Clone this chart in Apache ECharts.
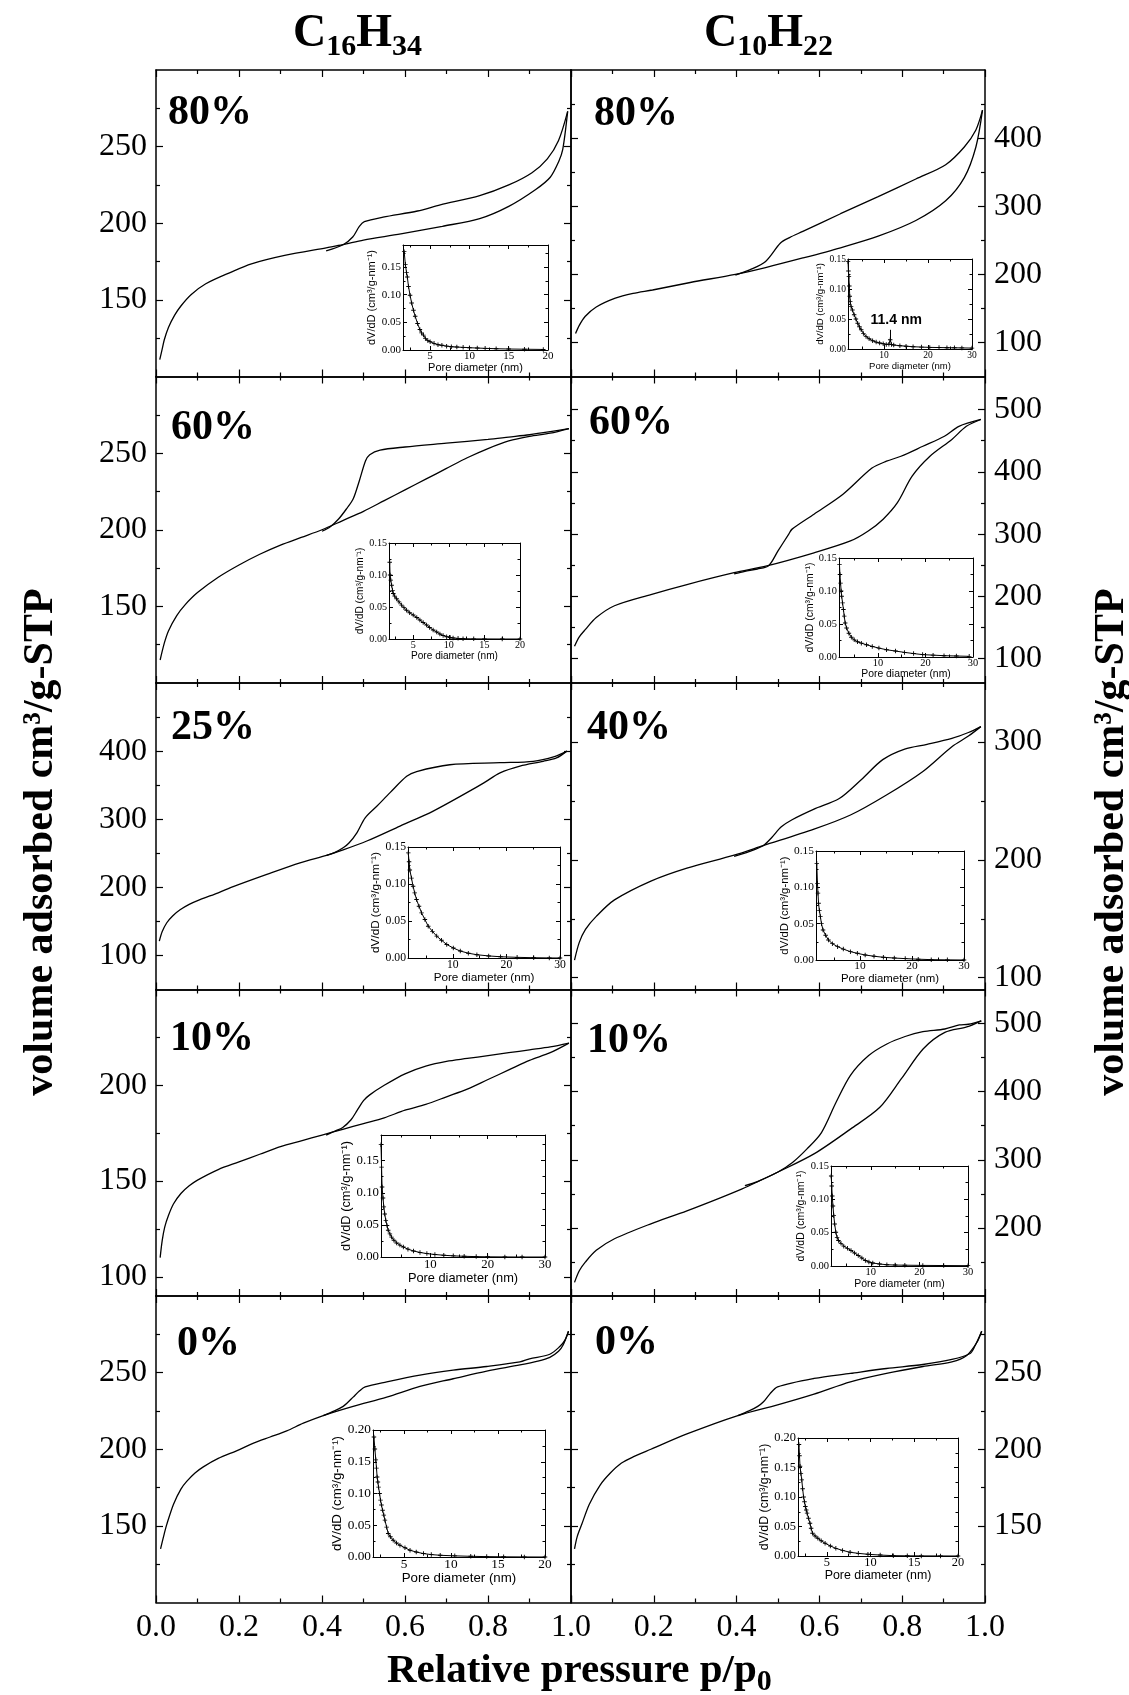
<!DOCTYPE html>
<html>
<head>
<meta charset="utf-8">
<script src="https://cdn.jsdelivr.net/npm/echarts@6.0.0/dist/echarts.min.js"></script>
<style>
html,body{margin:0;padding:0;background:#fff;}
#chart{width:1129px;height:1695px;}
</style>
</head>
<body>
<div id="chart"></div>
<script>
// ================= DATA =================
const relPressureTicks = [0, 0.2, 0.4, 0.6, 0.8, 1.0];
const relPressureMinor = [0.1, 0.3, 0.5, 0.7, 0.9];
const loadingC16 = ['80%', '60%', '25%', '10%', '0%'];
const loadingC10 = ['80%', '60%', '40%', '10%', '0%'];

// Isotherms: [p/p0, volume adsorbed cm3/g-STP]
const ads_C16_80 = [[0.009,111],[0.015,118],[0.02,124],[0.03,132],[0.045,140],[0.06,146],[0.085,153.5],[0.12,160.5],[0.18,168],[0.23,173.5],[0.31,179],[0.41,184],[0.45,186],[0.5,189],[0.59,193],[0.69,198],[0.78,203],[0.85,211],[0.915,222],[0.95,230],[0.97,240],[0.98,248],[0.992,273]];
const des_C16_80 = [[0.992,273],[0.97,254],[0.943,242],[0.906,233],[0.85,225],[0.78,218],[0.685,212],[0.63,208],[0.547,204],[0.502,201],[0.49,198],[0.474,191],[0.451,186],[0.41,182]];
const ads_C10_80 = [[0.011,113],[0.02,125],[0.034,138],[0.061,152],[0.107,165],[0.15,172],[0.197,177],[0.288,188],[0.397,200],[0.47,210],[0.56,224],[0.651,239],[0.742,256],[0.833,279],[0.905,308],[0.95,342],[0.978,387],[0.994,441]];
const des_C10_80 = [[0.994,441],[0.978,412],[0.95,387],[0.905,361],[0.833,340],[0.742,314],[0.651,289],[0.56,263],[0.528,254],[0.506,246],[0.47,219],[0.433,207],[0.397,199]];

const ads_C16_60 = [[0.01,115],[0.02,126],[0.03,134],[0.05,144],[0.07,151],[0.1,159],[0.15,169],[0.2,177],[0.25,184],[0.3,190],[0.35,195],[0.4,200],[0.45,206],[0.5,212],[0.55,219],[0.6,226],[0.65,233],[0.7,240],[0.75,247],[0.8,253],[0.85,258],[0.9,261],[0.95,263],[0.995,266]];
const des_C16_60 = [[0.995,266],[0.95,264],[0.9,262],[0.85,260.5],[0.8,259],[0.7,256.5],[0.6,254],[0.54,252],[0.515,249],[0.505,245],[0.49,232],[0.475,220],[0.46,214],[0.44,207],[0.42,202],[0.4,199]];
const ads_C10_60 = [[0.0085,120],[0.02,135],[0.035,147],[0.061,166],[0.105,185],[0.193,203],[0.28,219],[0.394,238],[0.473,249],[0.587,270],[0.675,289],[0.718,305],[0.754,324],[0.788,350],[0.824,393],[0.867,425],[0.92,452],[0.955,473],[0.99,484]];
const des_C10_60 = [[0.99,484],[0.937,473],[0.902,457],[0.85,441],[0.797,425],[0.762,417],[0.727,406],[0.657,364],[0.587,332],[0.534,308],[0.526,300],[0.5,273],[0.477,249],[0.45,244],[0.42,240],[0.394,236]];

const ads_C16_25 = [[0.008,121],[0.015,135],[0.026,148],[0.04,158],[0.058,167],[0.08,175],[0.106,182],[0.15,192],[0.186,201],[0.267,219],[0.347,236],[0.411,247],[0.451,255],[0.508,268],[0.588,290],[0.668,312],[0.749,339],[0.789,353],[0.829,368],[0.877,378],[0.933,385],[0.965,390],[0.99,400]];
const des_C16_25 = [[0.99,400],[0.96,392],[0.909,385],[0.829,383],[0.708,380],[0.628,370],[0.604,363],[0.564,339],[0.532,319],[0.504,302],[0.484,280],[0.465,265],[0.451,258],[0.43,251],[0.411,247]];
const ads_C10_40 = [[0.0085,115],[0.02,130],[0.035,141],[0.061,152],[0.105,166],[0.193,182],[0.28,193],[0.394,204],[0.464,212],[0.587,226],[0.675,238],[0.762,255],[0.85,275],[0.92,296],[0.96,305],[0.99,313]];
const des_C10_40 = [[0.99,313],[0.96,308],[0.92,303],[0.86,298],[0.806,294],[0.753,285],[0.701,268],[0.648,252],[0.587,243],[0.534,234],[0.508,228],[0.485,219],[0.464,212],[0.43,207],[0.394,203]];

const ads_C16_10 = [[0.01,110],[0.015,119],[0.021,126],[0.03,132],[0.042,138],[0.06,143.5],[0.08,147.5],[0.1,150.5],[0.15,156],[0.2,160],[0.25,164],[0.3,168],[0.35,171],[0.4,174],[0.45,177],[0.5,180],[0.55,183],[0.6,187],[0.65,190],[0.7,194],[0.75,198],[0.8,203],[0.85,208],[0.9,213],[0.95,217],[0.995,222]];
const des_C16_10 = [[0.995,222],[0.95,220],[0.9,218.5],[0.85,217],[0.8,215.5],[0.75,214],[0.7,212.5],[0.65,210],[0.6,206],[0.55,200],[0.515,195],[0.5,192],[0.485,187],[0.47,182],[0.45,178],[0.43,176],[0.41,174]];
const ads_C10_10 = [[0.0085,120],[0.02,137],[0.035,150],[0.061,167],[0.105,184],[0.193,206],[0.28,225],[0.412,257],[0.5,282],[0.588,309],[0.675,345],[0.746,377],[0.798,419],[0.851,463],[0.903,487],[0.956,495],[0.991,504]];
const des_C10_10 = [[0.991,504],[0.96,499],[0.938,498],[0.903,492],[0.85,488],[0.807,481],[0.763,470],[0.719,453],[0.675,424],[0.64,384],[0.605,340],[0.57,316],[0.535,296],[0.5,282],[0.45,268],[0.42,262]];

const ads_C16_0 = [[0.011,135],[0.02,145],[0.026,151],[0.042,164],[0.06,174],[0.074,179],[0.094,184.5],[0.114,188.5],[0.15,194],[0.194,199],[0.235,204],[0.275,208],[0.315,212],[0.355,217],[0.403,222],[0.475,228],[0.556,234],[0.636,241],[0.716,246],[0.797,251],[0.877,255],[0.92,257.5],[0.949,260],[0.97,264],[0.981,268],[0.994,277]];
const des_C16_0 = [[0.994,277],[0.985,271],[0.973,267],[0.949,262],[0.9,259],[0.877,257],[0.797,254],[0.716,251.6],[0.636,248.4],[0.556,244],[0.504,240.7],[0.49,238],[0.475,234],[0.46,230],[0.451,228],[0.43,225],[0.403,222]];
const ads_C10_0 = [[0.0085,135],[0.015,143],[0.026,151],[0.044,164],[0.07,176.5],[0.095,184.5],[0.122,191],[0.15,195],[0.193,200],[0.28,210],[0.403,222],[0.499,229],[0.587,236],[0.675,244],[0.762,249.5],[0.85,254],[0.92,257],[0.955,261],[0.981,270],[0.992,277]];
const des_C10_0 = [[0.992,277],[0.975,267],[0.964,262.5],[0.92,258.6],[0.85,255.3],[0.762,252.7],[0.675,249.5],[0.587,246.2],[0.499,240.7],[0.48,236],[0.465,231],[0.451,228],[0.43,225],[0.403,222]];

// Volume axis scales per row [min, max], labelled ticks, minor ticks
const yRangeC16 = [[100,300],[100,300],[50,500],[90,250],[100,300]];
const yLabelsC16 = [[150,200,250],[150,200,250],[100,200,300,400],[100,150,200],[150,200,250]];
const yMinorC16 = [[125,175,225,275],[125,175,225,275],[150,250,350,450],[125,175,225],[125,175,225,275]];
const yRangeC10 = [[50,500],[61,553],[90,350],[100,550],[100,300]];
const yLabelsC10 = [[100,200,300,400],[100,200,300,400,500],[100,200,300],[200,300,400,500],[150,200,250]];
const yMinorC10 = [[150,250,350,450],[150,250,350,450],[150,250],[150,250,350,450],[125,175,225,275]];

// Pore size distributions (insets): [pore diameter nm, dV/dD]
const psd_C16_80 = [[1.7,0.178],[1.85,0.155],[2.0,0.14],[2.1,0.132],[2.25,0.115],[2.45,0.099],[2.65,0.085],[2.88,0.072],[3.1,0.061],[3.4,0.048],[3.7,0.037],[3.9,0.031],[4.15,0.027],[4.4,0.021],[4.7,0.017],[5.0,0.015],[5.5,0.012],[6,0.0095],[6.5,0.0085],[7.1,0.007],[7.7,0.006],[8.4,0.0053],[9.2,0.0048],[10,0.0042],[11,0.0035],[12,0.003],[13.4,0.0023],[15,0.0018],[17,0.0014],[19.4,0.001]];
const psd_C10_80 = [[1.8,0.146],[1.9,0.13],[2.0,0.121],[2.1,0.105],[2.2,0.088],[2.3,0.079],[2.5,0.071],[2.8,0.065],[3.2,0.057],[3.6,0.05],[4.0,0.043],[4.4,0.037],[4.8,0.032],[5.3,0.026],[5.9,0.021],[6.6,0.017],[7.4,0.0138],[8.2,0.0115],[9.0,0.01],[9.8,0.0088],[10.5,0.0077],[11.1,0.008],[11.4,0.0155],[11.7,0.0075],[12.2,0.0066],[13.6,0.0055],[15,0.0047],[16.6,0.0038],[18.5,0.0032],[20.4,0.0027],[22.5,0.0024],[24.3,0.0022],[26,0.002],[27.7,0.0018],[30,0.0015]];
const psd_C16_60 = [[1.7,0.12],[1.75,0.1],[1.85,0.092],[1.97,0.084],[2.1,0.076],[2.2,0.071],[2.4,0.067],[2.67,0.063],[3.0,0.058],[3.37,0.053],[3.7,0.049],[4.07,0.045],[4.5,0.041],[5,0.0374],[5.5,0.0335],[5.94,0.0296],[6.4,0.0257],[6.88,0.0218],[7.3,0.018],[7.8,0.014],[8.3,0.011],[8.75,0.0078],[9.2,0.0055],[9.7,0.0036],[10.2,0.0024],[10.6,0.0016],[11.3,0.001],[12,0.0005],[13.5,0.0002],[15,0.0001],[17.5,0],[20,0]];
const psd_C10_60 = [[1.9,0.14],[2.0,0.125],[2.13,0.112],[2.25,0.1],[2.36,0.092],[2.55,0.082],[2.73,0.072],[2.9,0.062],[3.1,0.0515],[3.4,0.044],[3.88,0.036],[4.4,0.03],[5.0,0.026],[5.7,0.023],[6.5,0.021],[7.6,0.0185],[8.8,0.016],[10.2,0.0135],[11.8,0.011],[13.7,0.009],[15.6,0.007],[17.5,0.0052],[19.4,0.0036],[21.6,0.0028],[23.9,0.002],[26.5,0.0015],[29.2,0.001]];
const psd_C16_25 = [[1.7,0.142],[1.85,0.13],[1.99,0.119],[2.3,0.108],[2.6,0.097],[2.9,0.088],[3.24,0.079],[3.7,0.07],[4.18,0.061],[4.8,0.052],[5.42,0.043],[6.2,0.036],[7.0,0.0296],[7.9,0.024],[8.87,0.0183],[10.1,0.0135],[11.4,0.0094],[12.9,0.0065],[14.5,0.0044],[16.7,0.0028],[18.9,0.0017],[22,0.0009],[25.1,0.0004],[28,0.0001],[30,0]];
const psd_C10_40 = [[1.7,0.133],[1.83,0.1055],[1.93,0.092],[2.04,0.078],[2.2,0.068],[2.39,0.0597],[2.6,0.05],[2.9,0.0413],[3.4,0.034],[3.94,0.0275],[4.7,0.0225],[5.7,0.0184],[6.8,0.015],[8.16,0.0115],[9.5,0.0092],[11,0.0069],[12.7,0.0052],[14.5,0.0037],[16.6,0.0027],[18.7,0.0019],[21.2,0.0011],[23.7,0.0005],[26.8,0.0002],[30,0]];
const psd_C16_10 = [[1.4,0.175],[1.5,0.14],[1.59,0.109],[1.75,0.092],[1.89,0.078],[2.05,0.067],[2.24,0.057],[2.45,0.049],[2.65,0.0417],[2.95,0.036],[3.25,0.031],[3.65,0.026],[4.13,0.0219],[4.7,0.0185],[5.3,0.0156],[6.1,0.0122],[7.06,0.0094],[8.2,0.0071],[9.4,0.0053],[10.8,0.0039],[12.35,0.0027],[14,0.0018],[15.9,0.0011],[18,0.0006],[20,0.0003],[23,0.0001],[26,0],[30,0]];
const psd_C10_10 = [[1.84,0.135],[1.95,0.12],[2.06,0.105],[2.2,0.09],[2.37,0.0755],[2.55,0.063],[2.8,0.0507],[3.05,0.043],[3.33,0.0382],[3.85,0.034],[4.43,0.0298],[5.2,0.0265],[5.92,0.0233],[6.65,0.0195],[7.41,0.0158],[8.15,0.012],[8.88,0.0083],[9.6,0.006],[10.4,0.0045],[11.8,0.003],[13.3,0.0019],[15,0.0014],[17,0.0012],[20.7,0.0009],[25,0.0007],[30,0.0005]];
const psd_C16_0 = [[1.8,0.189],[1.9,0.17],[2.0,0.153],[2.07,0.14],[2.14,0.126],[2.22,0.118],[2.29,0.11],[2.4,0.1],[2.5,0.0895],[2.6,0.082],[2.72,0.0737],[2.85,0.066],[2.97,0.058],[3.15,0.047],[3.32,0.037],[3.55,0.032],[3.85,0.0264],[4.2,0.022],[4.57,0.0185],[5.1,0.0145],[5.64,0.0106],[6.3,0.0078],[7.07,0.0054],[7.9,0.0038],[8.85,0.0027],[10.4,0.0018],[12.1,0.0011],[13.8,0.0006],[15.6,0.0003],[17.8,0.0001],[20,0]];
const psd_C10_0 = [[1.81,0.189],[1.87,0.17],[1.93,0.152],[2.03,0.14],[2.13,0.129],[2.23,0.114],[2.34,0.1],[2.44,0.092],[2.54,0.0838],[2.64,0.078],[2.74,0.0726],[2.9,0.064],[3.07,0.0556],[3.2,0.047],[3.36,0.0386],[3.65,0.034],[3.97,0.03],[4.35,0.0258],[4.8,0.0216],[5.4,0.017],[6.03,0.013],[6.8,0.0095],[7.66,0.0063],[8.6,0.0045],[9.7,0.0029],[11.1,0.0016],[12.6,0.0006],[14.2,0.0003],[15.8,0.0002],[18,0.0001],[20,0]];

// Inset axis scales
const psdXRangeC16 = [[1.55,20],[1.6,20],[1.65,30],[1.4,30],[1.7,20]];
const psdXRangeC10 = [[1.8,30],[1.8,30],[1.55,30],[1.8,30],[1.7,20]];
const psdYMaxC16 = [0.19,0.15,0.15,0.19,0.2];
const psdYMaxC10 = [0.15,0.15,0.15,0.15,0.2];
const poreTicks20 = [5,10,15,20], poreMinor20 = [2.5,7.5,12.5,17.5];
const poreTicks30 = [10,20,30], poreMinor30 = [5,15,25];
const dvdTicks = [0,0.05,0.1,0.15,0.2], dvdMinor = [0.025,0.075,0.125,0.175];
const peakNote = { pore: 11.4, from: 0.014, to: 0.032, text: '11.4 nm' };

// ================= LAYOUT =================
const colLeft = [156, 571], colWidth = [415, 414];
const rowTop = [70, 376.5, 683, 989.5, 1296], rowHeight = 306.5;
const insetBoxC16 = [[403,245,548,350],[389,543,520,639],[408,847,560,958],[381,1135,545,1257],[373,1430,545,1557]];
const insetBoxC10 = [[848,259,972,349],[839,558,973,657],[816,851,964,960],[831,1166,968,1266],[798,1438,958,1556]];
const labelPosC16 = [[168,113],[171,428],[171,728],[170,1039],[177,1344]];
const labelPosC10 = [[594,114],[589,423.5],[587,728],[587,1041.5],[595,1343.5]];

const SERIF = '"Liberation Serif","Times New Roman",serif';
const SANS = '"Liberation Sans",Arial,sans-serif';
const PLUS = 'path://M4,0H6V4H10V6H6V10H4V6H0V4H4Z';

const grids = [], xAxes = [], yAxes = [], series = [], graphic = [];

function axis(kind, gi, pos, min, max, o) {
  const a = {
    type: 'value', gridIndex: gi, position: pos, min: min, max: max,
    axisLine: { show: !!o.line, onZero: false, lineStyle: { color: '#000', width: o.lineWidth || 1.5 } },
    axisTick: o.ticks ? { show: true, inside: true, length: o.tickLen, customValues: o.ticks, lineStyle: { color: '#000', width: o.tickWidth || 1.2 } } : { show: false },
    axisLabel: o.labels ? { show: true, customValues: o.labels, formatter: o.fmt, color: '#000', fontFamily: SERIF, fontSize: o.fontSize, margin: o.margin } : { show: false },
    splitLine: { show: false },
    silent: true
  };
  if (o.name) {
    a.name = o.name; a.nameLocation = 'middle'; a.nameGap = o.nameGap;
    a.nameTextStyle = { fontFamily: SANS, fontSize: o.nameSize, color: '#000' };
  }
  const arr = kind === 'x' ? xAxes : yAxes;
  arr.push(a);
  return arr.length - 1;
}

function addPanel(col, row, ads, des, yRange, yLabels, yMinor) {
  const gi = grids.length;
  grids.push({ left: colLeft[col], top: rowTop[row], width: colWidth[col], height: rowHeight });
  const bottomRow = row === 4;
  const xi = axis('x', gi, 'bottom', 0, 1, {
    line: true, ticks: relPressureTicks, tickLen: 7,
    labels: bottomRow ? (col === 0 ? relPressureTicks : relPressureTicks.slice(1)) : null,
    fmt: v => v.toFixed(1), fontSize: 32, margin: 9
  });
  axis('x', gi, 'bottom', 0, 1, { ticks: relPressureMinor, tickLen: 4 });
  axis('x', gi, 'top', 0, 1, { line: true, ticks: relPressureTicks, tickLen: 7 });
  axis('x', gi, 'top', 0, 1, { ticks: relPressureMinor, tickLen: 4 });
  const side = col === 0 ? 'left' : 'right', other = col === 0 ? 'right' : 'left';
  const yi = axis('y', gi, side, yRange[0], yRange[1], {
    line: true, ticks: yLabels, tickLen: 7, labels: yLabels, fmt: v => String(v), fontSize: 32, margin: 9
  });
  axis('y', gi, side, yRange[0], yRange[1], { ticks: yMinor, tickLen: 4 });
  axis('y', gi, other, yRange[0], yRange[1], { line: true, ticks: yLabels, tickLen: 7 });
  axis('y', gi, other, yRange[0], yRange[1], { ticks: yMinor, tickLen: 4 });
  [ads, des].forEach(d => series.push({
    type: 'line', xAxisIndex: xi, yAxisIndex: yi, data: d, showSymbol: false, symbol: 'none',
    smooth: 0.3, lineStyle: { color: '#000', width: 1.3 }, silent: true, z: 3
  }));
}

function addInset(box, xRange, yMax, data, note) {
  const gi = grids.length;
  const w = box[2] - box[0], h = box[3] - box[1];
  grids.push({ left: box[0], top: box[1], width: w, height: h });
  const fs = Math.round(h * 0.105 * 10) / 10;
  const xt = xRange[1] > 20 ? poreTicks30 : poreTicks20;
  const xm = xRange[1] > 20 ? poreMinor30 : poreMinor20;
  const yt = dvdTicks.filter(v => v <= yMax + 1e-9);
  const ym = dvdMinor.filter(v => v <= yMax + 1e-9);
  const xi = axis('x', gi, 'bottom', xRange[0], xRange[1], {
    line: true, lineWidth: 1, ticks: xt, tickLen: 4, tickWidth: 1, labels: xt, fmt: v => String(v),
    fontSize: fs, margin: 1, name: 'Pore diameter (nm)', nameGap: fs + 1, nameSize: fs
  });
  axis('x', gi, 'bottom', xRange[0], xRange[1], { ticks: xm, tickLen: 2.5, tickWidth: 1 });
  axis('x', gi, 'top', xRange[0], xRange[1], { line: true, lineWidth: 1, ticks: xt, tickLen: 4, tickWidth: 1 });
  axis('x', gi, 'top', xRange[0], xRange[1], { ticks: xm, tickLen: 2.5, tickWidth: 1 });
  const yi = axis('y', gi, 'left', 0, yMax, {
    line: true, lineWidth: 1, ticks: yt, tickLen: 4, tickWidth: 1, labels: yt, fmt: v => v.toFixed(2),
    fontSize: fs, margin: 2, name: 'dV/dD (cm³/g-nm⁻¹)', nameGap: fs * 1.75 + 3, nameSize: fs
  });
  axis('y', gi, 'left', 0, yMax, { ticks: ym, tickLen: 2.5, tickWidth: 1 });
  axis('y', gi, 'right', 0, yMax, { line: true, lineWidth: 1, ticks: yt, tickLen: 4, tickWidth: 1 });
  axis('y', gi, 'right', 0, yMax, { ticks: ym, tickLen: 2.5, tickWidth: 1 });
  const s = {
    type: 'line', xAxisIndex: xi, yAxisIndex: yi, data: data, symbol: PLUS, symbolSize: 4.5, showSymbol: true,
    itemStyle: { color: '#000' }, lineStyle: { color: '#000', width: 1 }, silent: true, z: 6
  };
  if (note) {
    s.markLine = {
      silent: true, symbol: ['none', 'none'], animation: false,
      lineStyle: { color: '#000', width: 1, type: 'solid' },
      label: { show: true, position: 'end', formatter: note.text, fontFamily: SANS, fontWeight: 'bold', fontSize: 14, color: '#000', distance: 3, offset: [6, 0] },
      data: [[{ coord: [note.pore, note.from] }, { coord: [note.pore, note.to] }]]
    };
  }
  series.push(s);
}

const isoC16 = [[ads_C16_80, des_C16_80], [ads_C16_60, des_C16_60], [ads_C16_25, des_C16_25], [ads_C16_10, des_C16_10], [ads_C16_0, des_C16_0]];
const isoC10 = [[ads_C10_80, des_C10_80], [ads_C10_60, des_C10_60], [ads_C10_40, des_C10_40], [ads_C10_10, des_C10_10], [ads_C10_0, des_C10_0]];
const psdC16 = [psd_C16_80, psd_C16_60, psd_C16_25, psd_C16_10, psd_C16_0];
const psdC10 = [psd_C10_80, psd_C10_60, psd_C10_40, psd_C10_10, psd_C10_0];

for (let r = 0; r < 5; r++) {
  addPanel(0, r, isoC16[r][0], isoC16[r][1], yRangeC16[r], yLabelsC16[r], yMinorC16[r]);
  addPanel(1, r, isoC10[r][0], isoC10[r][1], yRangeC10[r], yLabelsC10[r], yMinorC10[r]);
}
for (let r = 0; r < 5; r++) {
  addInset(insetBoxC16[r], psdXRangeC16[r], psdYMaxC16[r], psdC16[r], null);
  addInset(insetBoxC10[r], psdXRangeC10[r], psdYMaxC10[r], psdC10[r], r === 0 ? peakNote : null);
}

// ---------- text ----------
function txt(text, x, y, size, opts) {
  opts = opts || {};
  graphic.push({
    type: 'text', x: x, y: y, rotation: opts.rotation || 0, silent: true, z: 10,
    style: {
      text: text, fill: '#000', font: 'bold ' + size + 'px ' + SERIF,
      textAlign: opts.align || 'left', align: opts.align || 'left',
      textVerticalAlign: 'middle', verticalAlign: 'middle'
    }
  });
}
const mctx = document.createElement('canvas').getContext('2d');
function tw(t, size) { mctx.font = 'bold ' + size + 'px ' + SERIF; return mctx.measureText(t).width; }
// parts: [text, fontSize, baseline]
function formula(parts, x0) {
  let x = x0;
  parts.forEach(p => { txt(p[0], x, p[2] - 0.3375 * p[1], p[1]); x += tw(p[0], p[1]); });
}
formula([['C', 46, 50], ['16', 30, 57], ['H', 46, 50], ['34', 30, 57]], 293);
formula([['C', 46, 50], ['10', 30, 57], ['H', 46, 50], ['22', 30, 57]], 704);
formula([['Relative pressure p/p', 41, 1685], ['0', 30, 1692]], 387);
txt('volume adsorbed cm³/g-STP', 41, 842, 42, { rotation: Math.PI / 2, align: 'center' });
txt('volume adsorbed cm³/g-STP', 1112, 842, 42, { rotation: Math.PI / 2, align: 'center' });
for (let r = 0; r < 5; r++) {
  txt(loadingC16[r], labelPosC16[r][0], labelPosC16[r][1], 42);
  txt(loadingC10[r], labelPosC10[r][0], labelPosC10[r][1], 42);
}

const chart = echarts.init(document.getElementById('chart'), null, { renderer: 'canvas' });
chart.setOption({
  animation: false,
  backgroundColor: '#fff',
  grid: grids,
  xAxis: xAxes,
  yAxis: yAxes,
  series: series,
  graphic: graphic
});
</script>
</body>
</html>
